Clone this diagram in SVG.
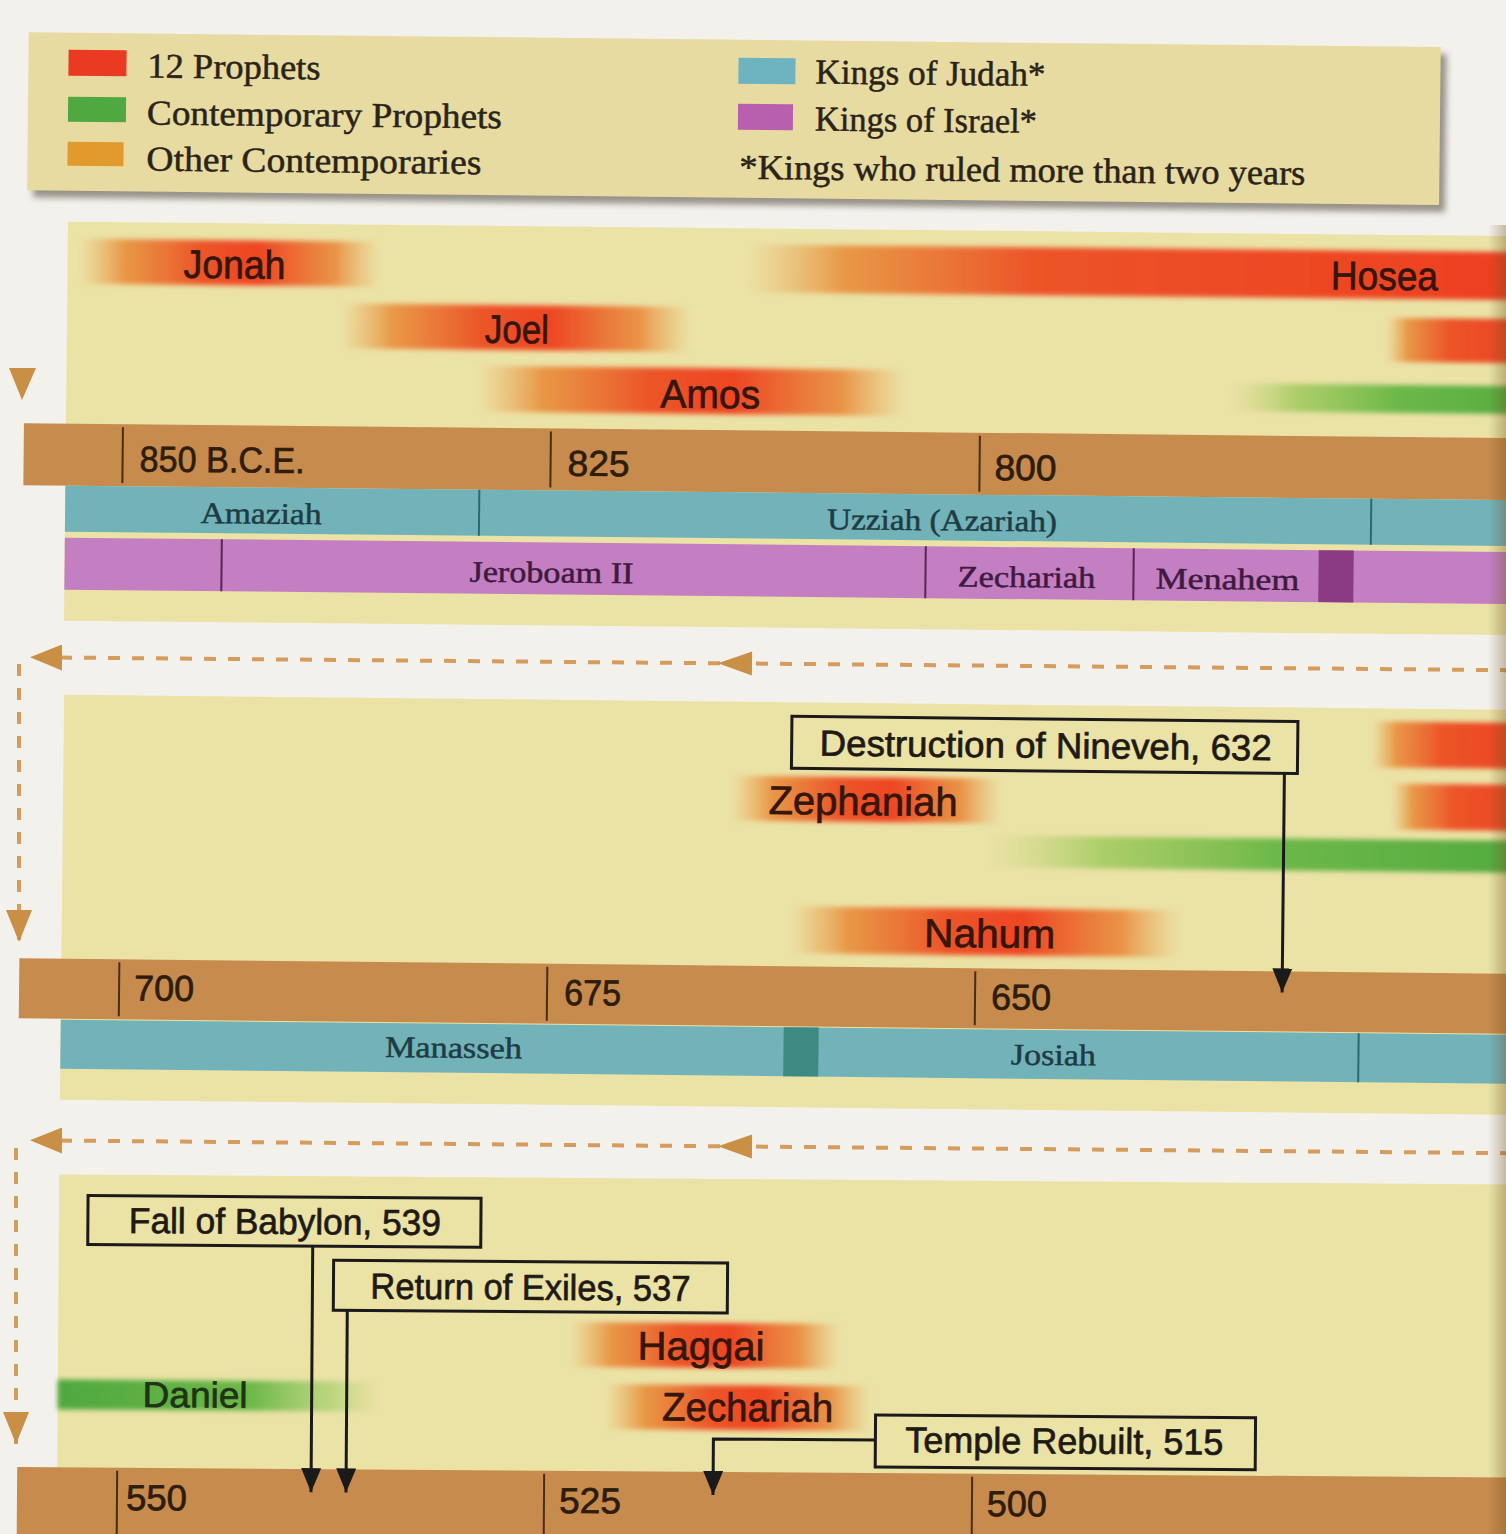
<svg xmlns="http://www.w3.org/2000/svg" width="1506" height="1534" viewBox="0 0 1506 1534">
<defs>
<style>
.sans{font-family:"Liberation Sans",Arial,sans-serif;fill:#36160a;stroke:#36160a;stroke-width:0.7}
.serif{font-family:"Liberation Serif","DejaVu Serif",serif;fill:#2a2418;stroke:#2a2418;stroke-width:0.5}
.pl{font-size:40px}
.yr{font-size:36px;fill:#2e1c0c;stroke:#2e1c0c}
.king{font-size:30px}
.kj{fill:#1f3c44;stroke:#1f3c44}
.ki{fill:#3e1a40;stroke:#3e1a40}
.ev{font-size:36px;fill:#1e1a12;stroke:#1e1a12}
.leg{font-size:35px}
.panel{fill:#ebe2a6}
.tl{fill:#c78b4d}
.tick{stroke:#4a2e14;stroke-width:2}
.judah{fill:#72b3ba}
.israel{fill:#c47fc2}
.kdiv{stroke:#2c6a70;stroke-width:2}
.idiv{stroke:#5a2458;stroke-width:2}
.box{fill:none;stroke:#1a1a1a;stroke-width:3}
.conn{fill:none;stroke:#1a1a1a;stroke-width:3}
.dash{fill:none;stroke:#d49c5e;stroke-width:4;stroke-dasharray:12 12}
.oarrow{fill:#c98f44}
</style>
<linearGradient id="gP">
<stop offset="0" stop-color="#e9a24e" stop-opacity="0"/>
<stop offset="0.15" stop-color="#e88f3c" stop-opacity="0.9"/>
<stop offset="0.4" stop-color="#ec5528"/>
<stop offset="0.6" stop-color="#ee4623"/>
<stop offset="0.85" stop-color="#e98a3c" stop-opacity="0.9"/>
<stop offset="1" stop-color="#e9a24e" stop-opacity="0"/>
</linearGradient>
<linearGradient id="gR">
<stop offset="0" stop-color="#e9a24e" stop-opacity="0"/>
<stop offset="0.12" stop-color="#e88f3c" stop-opacity="0.9"/>
<stop offset="0.35" stop-color="#ec5428"/>
<stop offset="1" stop-color="#ee3c20"/>
</linearGradient>
<linearGradient id="gG">
<stop offset="0" stop-color="#b8d070" stop-opacity="0"/>
<stop offset="0.2" stop-color="#9cc85a" stop-opacity="0.8"/>
<stop offset="0.5" stop-color="#6cb848"/>
<stop offset="1" stop-color="#4ea83e"/>
</linearGradient>
<linearGradient id="gD">
<stop offset="0" stop-color="#4fa83f"/>
<stop offset="0.6" stop-color="#6cb848"/>
<stop offset="0.85" stop-color="#a8d070" stop-opacity="0.7"/>
<stop offset="1" stop-color="#b8d070" stop-opacity="0"/>
</linearGradient>
<linearGradient id="gutter">
<stop offset="0" stop-color="#6b5020" stop-opacity="0"/>
<stop offset="1" stop-color="#6b5020" stop-opacity="0.35"/>
</linearGradient>
<filter id="soft" x="-5%" y="-30%" width="110%" height="160%"><feGaussianBlur stdDeviation="2.5"/></filter>
<filter id="shadow" x="-5%" y="-20%" width="110%" height="140%"><feGaussianBlur stdDeviation="3"/></filter>
<marker id="ah" markerUnits="userSpaceOnUse" markerWidth="24" markerHeight="20" viewBox="0 0 24 20" refX="24" refY="10" orient="auto"><path d="M0,0 L24,10 L0,20 z" fill="#1a1a1a"/></marker>
<marker id="oh" markerUnits="userSpaceOnUse" markerWidth="32" markerHeight="26" viewBox="0 0 32 26" refX="32" refY="13" orient="auto"><path d="M0,0 L32,13 L0,26 z" fill="#c98f44"/></marker>
</defs>
<rect width="1506" height="1534" fill="#f3f1ec"/>

<g id="legend" transform="rotate(0.6 0 110)">
<rect x="34" y="39" width="1412" height="158" fill="#6f6a60" opacity="0.7" filter="url(#shadow)"/>
<rect x="28" y="32" width="1412" height="158" fill="#e7dba2"/>
<rect x="68" y="49" width="58" height="26" fill="#ea3a22"/>
<rect x="68" y="96" width="58" height="25" fill="#4fa840"/>
<rect x="68" y="141" width="56" height="24" fill="#e29a2c"/>
<text class="serif leg" x="147" y="76" textLength="173" lengthAdjust="spacingAndGlyphs">12 Prophets</text>
<text class="serif leg" x="147" y="123" textLength="355" lengthAdjust="spacingAndGlyphs">Contemporary Prophets</text>
<text class="serif leg" x="147" y="169" textLength="335" lengthAdjust="spacingAndGlyphs">Other Contemporaries</text>
<rect x="738" y="50" width="57" height="26" fill="#6db3c0"/>
<rect x="738" y="96" width="55" height="26" fill="#b85fae"/>
<text class="serif leg" x="815" y="75" textLength="230" lengthAdjust="spacingAndGlyphs">Kings of Judah*</text>
<text class="serif leg" x="815" y="122" textLength="222" lengthAdjust="spacingAndGlyphs">Kings of Israel*</text>
<text class="serif leg" x="740" y="171" textLength="566" lengthAdjust="spacingAndGlyphs">*Kings who ruled more than two years</text>
</g>

<g id="section1" transform="rotate(0.57 0 420)">
<rect class="panel" x="66" y="221" width="1500" height="399"/>
<g id="jonah"><rect x="78" y="238" width="300" height="45" fill="url(#gP)" filter="url(#soft)"/><text class="sans pl" x="233" y="276" text-anchor="middle" textLength="102" lengthAdjust="spacingAndGlyphs">Jonah</text></g>
<g id="hosea"><rect x="745" y="237" width="820" height="48" fill="url(#gR)" filter="url(#soft)"/><text class="sans pl" x="1383" y="276" text-anchor="middle" textLength="107" lengthAdjust="spacingAndGlyphs">Hosea</text></g>
<g id="joel"><rect x="340" y="300" width="350" height="45" fill="url(#gP)" filter="url(#soft)"/><text class="sans pl" x="516" y="338" text-anchor="middle" textLength="64" lengthAdjust="spacingAndGlyphs">Joel</text></g>
<g id="amos"><rect x="478" y="361" width="427" height="46" fill="url(#gP)" filter="url(#soft)"/><text class="sans pl" x="710" y="401" text-anchor="middle" textLength="100" lengthAdjust="spacingAndGlyphs">Amos</text></g>
<g id="bar-red-right-1"><rect x="1385" y="304" width="180" height="44" fill="url(#gR)" filter="url(#soft)"/></g>
<g id="bar-green-right-1"><rect x="1230" y="371" width="335" height="28" fill="url(#gG)" filter="url(#soft)"/></g>
<g id="timeline1">
<rect class="tl" x="24" y="423" width="1545" height="62"/>
<line class="tick" x1="123" y1="426" x2="123" y2="482"/>
<line class="tick" x1="551" y1="426" x2="551" y2="482"/>
<line class="tick" x1="980" y1="426" x2="980" y2="482"/>
<text class="sans yr" x="140" y="470" textLength="165" lengthAdjust="spacingAndGlyphs">850 B.C.E.</text>
<text class="sans yr" x="568" y="470" textLength="62" lengthAdjust="spacingAndGlyphs">825</text>
<text class="sans yr" x="995" y="470" textLength="62" lengthAdjust="spacingAndGlyphs">800</text>
</g>
<g id="judah1">
<rect class="judah" x="66" y="485" width="1500" height="46"/>
<line class="kdiv" x1="480" y1="485" x2="480" y2="531"/>
<line class="kdiv" x1="1372" y1="485" x2="1372" y2="531"/>
<text class="serif king kj" x="262" y="521" text-anchor="middle" textLength="121" lengthAdjust="spacingAndGlyphs">Amaziah</text>
<text class="serif king kj" x="943" y="521" text-anchor="middle" textLength="230" lengthAdjust="spacingAndGlyphs">Uzziah (Azariah)</text>
</g>
<g id="israel1">
<rect class="israel" x="66" y="537" width="1500" height="52"/>
<line class="idiv" x1="223" y1="537" x2="223" y2="589"/>
<line class="idiv" x1="927" y1="537" x2="927" y2="589"/>
<line class="idiv" x1="1135" y1="537" x2="1135" y2="589" stroke-width="4"/>
<rect x="1320" y="537" width="35" height="52" fill="#8b3b83"/>
<text class="serif king ki" x="553" y="577" text-anchor="middle" textLength="164" lengthAdjust="spacingAndGlyphs">Jeroboam II</text>
<text class="serif king ki" x="1028" y="577" text-anchor="middle" textLength="138" lengthAdjust="spacingAndGlyphs">Zechariah</text>
<text class="serif king ki" x="1229" y="577" text-anchor="middle" textLength="144" lengthAdjust="spacingAndGlyphs">Menahem</text>
</g>
</g>

<g id="section2" transform="rotate(0.6 0 900)">
<rect class="panel" x="62" y="694" width="1505" height="405"/>
<g id="nineveh"><rect class="box" x="790" y="708" width="506" height="52"/><text class="sans ev" x="818" y="747" textLength="452" lengthAdjust="spacingAndGlyphs">Destruction of Nineveh, 632</text></g>
<g id="bar-red-right-2"><rect x="1370" y="707" width="200" height="46" fill="url(#gR)" filter="url(#soft)"/></g>
<g id="bar-red-right-3"><rect x="1390" y="769" width="180" height="46" fill="url(#gR)" filter="url(#soft)"/></g>
<g id="zephaniah"><rect x="730" y="768" width="270" height="45" fill="url(#gP)" filter="url(#soft)"/><text class="sans pl" x="862" y="806" text-anchor="middle" textLength="189" lengthAdjust="spacingAndGlyphs">Zephaniah</text></g>
<g id="bar-green-right-2"><rect x="985" y="825" width="585" height="32" fill="url(#gG)" filter="url(#soft)"/></g>
<g id="nahum"><rect x="790" y="898" width="390" height="47" fill="url(#gP)" filter="url(#soft)"/><text class="sans pl" x="990" y="937" text-anchor="middle" textLength="131" lengthAdjust="spacingAndGlyphs">Nahum</text></g>
<g id="timeline2">
<rect class="tl" x="20" y="958" width="1550" height="60"/>
<line class="tick" x1="120" y1="961" x2="120" y2="1015"/>
<line class="tick" x1="548" y1="961" x2="548" y2="1015"/>
<line class="tick" x1="976" y1="961" x2="976" y2="1015"/>
<text class="sans yr" x="135" y="999" textLength="60" lengthAdjust="spacingAndGlyphs">700</text>
<text class="sans yr" x="565" y="999" textLength="57" lengthAdjust="spacingAndGlyphs">675</text>
<text class="sans yr" x="992" y="999" textLength="60" lengthAdjust="spacingAndGlyphs">650</text>
</g>
<g id="judah2">
<rect class="judah" x="62" y="1019" width="1505" height="49"/>
<rect x="785" y="1019" width="35" height="49" fill="#3d8a82"/>
<line class="kdiv" x1="1360" y1="1019" x2="1360" y2="1068"/>
<text class="serif king kj" x="455" y="1053" text-anchor="middle" textLength="137" lengthAdjust="spacingAndGlyphs">Manasseh</text>
<text class="serif king kj" x="1055" y="1054" text-anchor="middle" textLength="85" lengthAdjust="spacingAndGlyphs">Josiah</text>
</g>
</g>

<g id="section3" transform="rotate(0.4 0 1350)">
<rect class="panel" x="58" y="1174" width="1510" height="400"/>
<g id="fall-babylon"><rect class="box" x="87" y="1195" width="393" height="49"/><text class="sans ev" x="128" y="1232" textLength="312" lengthAdjust="spacingAndGlyphs">Fall of Babylon, 539</text></g>
<g id="return-exiles"><rect class="box" x="333" y="1258" width="394" height="50"/><text class="sans ev" x="370" y="1296" textLength="320" lengthAdjust="spacingAndGlyphs">Return of Exiles, 537</text></g>
<g id="haggai"><rect x="570" y="1318" width="270" height="45" fill="url(#gP)" filter="url(#soft)"/><text class="sans pl" x="701" y="1355" text-anchor="middle" textLength="127" lengthAdjust="spacingAndGlyphs">Haggai</text></g>
<g id="daniel"><rect x="58" y="1379" width="322" height="30" fill="url(#gD)" filter="url(#soft)"/><text class="sans pl" x="143" y="1406" textLength="105" lengthAdjust="spacingAndGlyphs" style="fill:#1f3414;stroke:#1f3414;font-size:36px">Daniel</text></g>
<g id="zechariah"><rect x="605" y="1380" width="265" height="45" fill="url(#gP)" filter="url(#soft)"/><text class="sans pl" x="748" y="1416" text-anchor="middle" textLength="171" lengthAdjust="spacingAndGlyphs">Zechariah</text></g>
<g id="temple-rebuilt"><rect class="box" x="876" y="1409" width="380" height="52"/><text class="sans ev" x="906" y="1446" textLength="318" lengthAdjust="spacingAndGlyphs">Temple Rebuilt, 515</text></g>
<g id="timeline3">
<rect class="tl" x="18" y="1467" width="1550" height="80"/>
<line class="tick" x1="118" y1="1470" x2="118" y2="1534"/>
<line class="tick" x1="545" y1="1470" x2="545" y2="1534"/>
<line class="tick" x1="973" y1="1470" x2="973" y2="1534"/>
<text class="sans yr" x="127" y="1509" textLength="61" lengthAdjust="spacingAndGlyphs">550</text>
<text class="sans yr" x="560" y="1509" textLength="62" lengthAdjust="spacingAndGlyphs">525</text>
<text class="sans yr" x="988" y="1509" textLength="60" lengthAdjust="spacingAndGlyphs">500</text>
</g>
</g>

<g id="connectors">
<path class="conn" d="M1283,760 V979" marker-end="url(#ah)" transform="rotate(0.6 0 900)"/>
<path class="conn" d="M312,1244 V1490" marker-end="url(#ah)" transform="rotate(0.4 0 1350)"/>
<path class="conn" d="M347,1308 V1490" marker-end="url(#ah)" transform="rotate(0.4 0 1350)"/>
<path class="conn" d="M876,1434 H714 V1490" marker-end="url(#ah)" transform="rotate(0.4 0 1350)"/>
<polygon class="oarrow" points="9,368 36,368 22,400"/>
<g transform="rotate(0.5 0 660)">
<path class="dash" d="M1560,657 H30" marker-end="url(#oh)"/>
<polygon class="oarrow" points="718,657 752,645 752,669"/>
</g>
<path class="dash" d="M19,664 V942" marker-end="url(#oh)"/>
<g transform="rotate(0.5 0 1143)">
<path class="dash" d="M1560,1140 H30" marker-end="url(#oh)"/>
<polygon class="oarrow" points="718,1140 752,1128 752,1152"/>
</g>
<path class="dash" d="M16,1148 V1444" marker-end="url(#oh)"/>
</g>
<rect x="1488" y="225" width="18" height="1309" fill="url(#gutter)"/>
</svg>
